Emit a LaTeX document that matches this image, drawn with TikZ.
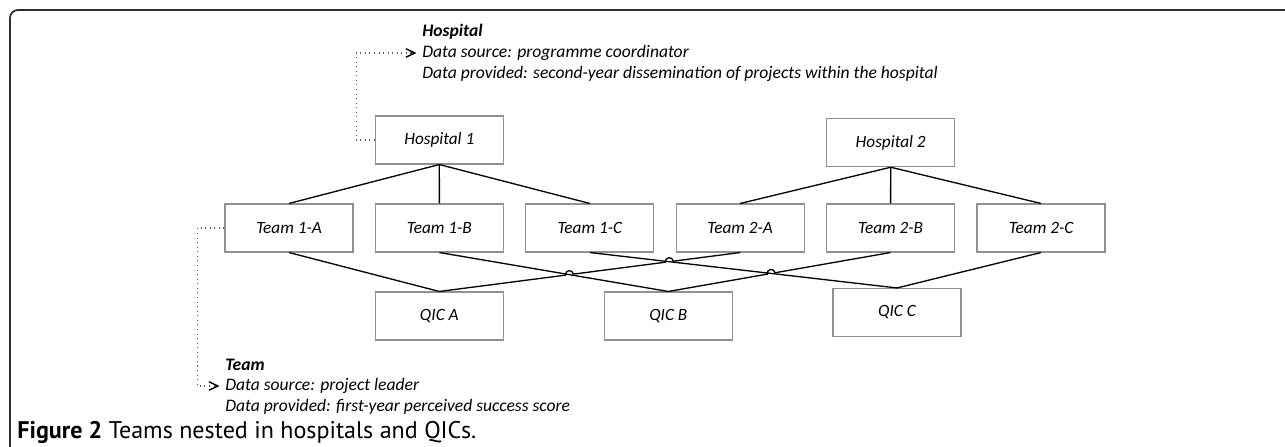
\documentclass[tikz,border=0pt]{standalone}
\usepackage{fontspec}
\setmainfont{Carlito}
\newfontfamily\capfont{PT Sans}
\usetikzlibrary{arrows.meta,calc,intersections}
\definecolor{boxgray}{RGB}{145,145,145}
\definecolor{framegray}{RGB}{45,45,45}

\begin{document}
\begin{tikzpicture}[x=0.2mm,y=0.2mm,
	box/.style={draw=boxgray,line width=0.6pt,minimum width=25.6mm,minimum height=9.6mm,inner sep=0pt,font=\fontsize{9.8}{11.6}\selectfont\itshape},
	link/.style={black,line width=0.75pt},
	note/.style={anchor=west,inner sep=0pt,font=\fontsize{10}{12}\selectfont\itshape},
	notetitle/.style={note,font=\fontsize{10}{12}\selectfont\bfseries\itshape},
	hint/.style={gray!70!black,dotted,line width=0.6pt,shorten >=1.1mm,-{Straight Barb[length=1.8mm,width=1.7mm,black,line width=0.8pt]}}]
		\useasboundingbox (0,0) rectangle (1285,-447);
		\draw[framegray,line width=1pt,rounded corners=1.6mm] (1285,-10) -- (10,-10) -- (10,-447);

		\node[box] (H1) at (439.3,-140) {Hospital 1};
		\node[box] (H2) at (890.7,-142.7) {Hospital 2};
		\foreach \n/\t [count=\i from 0] in {T1A/Team 1-A,T1B/Team 1-B,T1C/Team 1-C,T2A/Team 2-A,T2B/Team 2-B,T2C/Team 2-C}
		\node[box] (\n) at (289+150.4*\i,-228) {\t};
		\node[box] (QA) at (439.3,-316) {QIC A};
		\node[box] (QB) at (668.3,-316) {QIC B};
		\node[box] (QC) at (897,-312.5) {QIC C};

		\foreach \t in {T1A,T1B,T1C}
		\draw[link] (H1.south) -- (\t.north);
		\foreach \t in {T2A,T2B,T2C}
		\draw[link] (H2.south) -- (\t.north);

		\draw[link] (T1A.south) -- (QA.north);
		\draw[link,name path=b1] (T1B.south) -- (QB.north);
		\draw[link,name path=c1] (T1C.south) -- (QC.north);
		\draw[link] (T2C.south) -- (QC.north);
		\path[name path=a2] (T2A.south) -- (QA.north);
		\path[name path=b2] (T2B.south) -- (QB.north);
		\path[name intersections={of=a2 and b1,by=X1}];
		\path[name intersections={of=a2 and c1,by=X2}];
		\path[name intersections={of=b2 and c1,by=X3}];
		\draw[link] (T2A.south) -- ($(X2)!0.8mm!(T2A.south)$) to[bend right=90,looseness=1.7] ($(X2)!0.8mm!(QA.north)$)
			-- ($(X1)!0.8mm!(T2A.south)$) to[bend right=90,looseness=1.7] ($(X1)!0.8mm!(QA.north)$) -- (QA.north);
		\draw[link] (T2B.south) -- ($(X3)!0.8mm!(T2B.south)$) to[bend right=90,looseness=1.7] ($(X3)!0.8mm!(QB.north)$) -- (QB.north);

		\node[notetitle] (hosptitle) at (422,-32) {Hospital};
		\node[note] (hospsrc) at (422,-53) {Data source: programme coordinator};
		\node[note] (hospdata) at (422,-74) {Data provided: second-year dissemination of projects within the hospital};
		\draw[hint] (H1.west) -- ++(-18.6,0) |- (hospsrc.west);

		\node[notetitle] (teamtitle) at (225,-365) {Team};
		\node[note] (teamsrc) at (225,-386) {Data source: project leader};
		\node[note] (teamdata) at (225,-407) {Data provided: first-year perceived success score};
		\draw[hint] (T1A.west) -- ++(-27,0) |- (teamsrc.west);

		\node[anchor=west,inner sep=0pt,font=\capfont\fontsize{13.7}{16}\selectfont] (caption) at (17,-432) {\textbf{Figure 2} Teams nested in hospitals and QICs.};
\end{tikzpicture}
\end{document}
